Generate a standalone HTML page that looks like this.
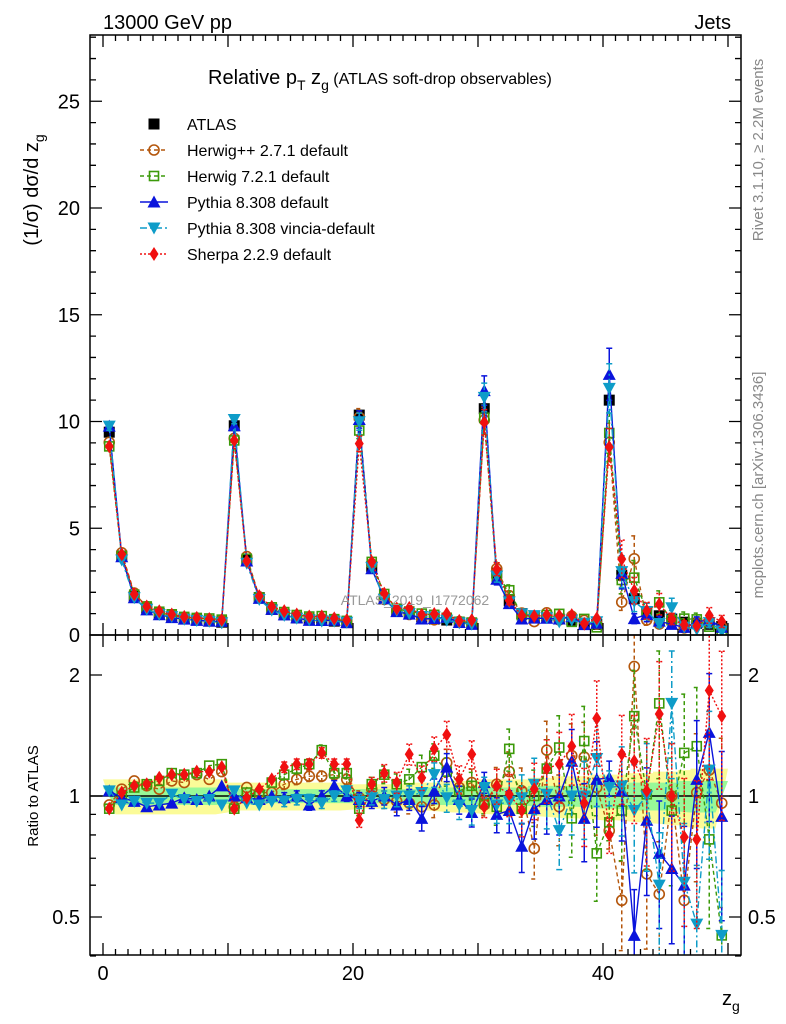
<!DOCTYPE html>
<html><head><meta charset="utf-8"><style>
html,body{margin:0;padding:0;background:#fff;}
svg{display:block;font-family:"Liberation Sans",sans-serif;}
</style></head><body>
<svg id="chart" width="786" height="1024" viewBox="0 0 786 1024" xmlns="http://www.w3.org/2000/svg">
<defs>
<clipPath id="clipMain"><rect x="90" y="35" width="651" height="600"/></clipPath>
<clipPath id="clipRatio"><rect x="90" y="635" width="651" height="320"/></clipPath>
</defs>
<g id="bands" clip-path="url(#clipRatio)"></g>
<g id="series-main" clip-path="url(#clipMain)"></g>
<g id="series-ratio" clip-path="url(#clipRatio)"></g>
<g id="axes"></g>
<text x="103" y="29" font-size="20">13000 GeV pp</text>
<text x="731" y="29" font-size="20" text-anchor="end">Jets</text>
<text x="208" y="84" font-size="20">Relative p<tspan font-size="14" dy="6">T</tspan><tspan dy="-6"> z</tspan><tspan font-size="14" dy="6">g</tspan><tspan dy="-6" font-size="16"> (ATLAS soft-drop observables)</tspan></text>
<text x="415" y="605" font-size="14" fill="#999" text-anchor="middle">ATLAS_2019_I1772062</text>
<text transform="translate(38,190) rotate(-90)" font-size="20" text-anchor="middle">(1/σ) dσ/d z<tspan font-size="14" dy="6">g</tspan></text>
<text transform="translate(38,796) rotate(-90)" font-size="15" text-anchor="middle">Ratio to ATLAS</text>
<text x="722" y="1005" font-size="20">z<tspan font-size="14" dy="6">g</tspan></text>
<text transform="translate(763,150) rotate(-90)" font-size="15" fill="#888" text-anchor="middle">Rivet 3.1.10, ≥ 2.2M events</text>
<text transform="translate(763,485) rotate(-90)" font-size="15" fill="#888" text-anchor="middle">mcplots.cern.ch [arXiv:1306.3436]</text>
<g id="legend"></g>
</svg>
<script>
const atlasVals=[9.5,3.7,1.8,1.25,1.0,0.85,0.75,0.7,0.65,0.6,
9.8,3.5,1.75,1.2,0.95,0.8,0.72,0.68,0.65,0.58,
10.3,3.2,1.7,1.15,1.0,0.85,0.75,0.7,0.6,0.55,
10.6,2.9,1.6,1.0,0.85,0.8,0.75,0.7,0.55,0.5,
11.0,2.8,1.7,1.1,0.9,0.75,0.6,0.55,0.5,0.4];
const herwigppRatio=[0.95,1.04,1.09,1.06,1.04,1.09,1.08,1.13,1.10,1.15,
0.94,1.05,1.02,1.02,1.07,1.10,1.12,1.12,1.13,1.1,
0.99,1.04,0.98,0.97,0.96,0.94,0.95,1.21,1.05,1.08,
0.95,1.07,1.15,1.03,0.74,1.30,0.94,1.26,1.25,1.05,
0.82,0.55,2.1,0.64,0.57,1.0,0.55,1.02,1.16,0.96];
const herwig7Ratio=[0.93,1.0,1.05,1.07,1.09,1.14,1.13,1.14,1.19,1.2,
0.93,1.02,1.0,1.08,1.13,1.17,1.2,1.3,1.14,1.14,
0.93,1.07,1.13,1.07,1.1,1.18,1.26,1.15,1.03,1.06,
0.96,0.94,1.31,0.93,1.0,1.17,1.32,0.88,1.37,0.72,
0.86,0.92,1.58,1.01,1.7,0.92,1.28,1.33,0.78,0.45];
const pythiaRatio=[1.03,0.99,0.97,0.94,0.95,0.96,0.99,0.98,1.0,1.06,
1.0,0.99,0.98,1.0,0.99,1.0,0.95,1.0,1.06,1.0,
0.98,0.97,1.0,0.95,0.98,0.88,1.03,1.18,0.98,0.91,
1.08,0.90,0.92,0.75,0.93,0.98,1.0,1.22,0.88,1.1,
1.11,1.03,0.45,0.87,0.72,0.66,0.6,1.1,1.44,0.89];
const vinciaRatio=[1.03,0.95,0.97,0.96,0.96,1.01,0.98,0.97,0.98,0.95,
1.03,0.96,0.95,0.97,0.97,0.98,0.98,0.96,1.0,1.03,
0.97,0.99,0.98,1.0,1.0,1.02,1.13,0.99,0.95,0.92,
1.05,0.95,0.97,0.99,1.07,1.01,0.82,1.0,1.0,1.24,
1.05,1.06,0.92,1.0,0.6,1.7,0.61,0.48,1.16,0.45];
const sherpaRatio=[0.93,1.02,1.06,1.07,1.11,1.13,1.13,1.15,1.15,1.18,
0.93,0.99,1.04,1.1,1.18,1.2,1.2,1.28,1.2,1.2,
0.87,1.07,1.14,1.08,1.27,1.11,1.31,1.42,1.1,1.27,
0.94,1.06,1.01,0.92,1.04,1.17,1.2,1.33,0.96,1.56,
0.8,1.27,1.22,1.03,1.6,1.0,0.79,0.78,1.83,1.58];
const mcErr=[0.02,0.02,0.02,0.02,0.02,0.02,0.02,0.02,0.02,0.02,
0.02,0.02,0.02,0.02,0.03,0.03,0.03,0.03,0.03,0.03,
0.04,0.04,0.05,0.06,0.06,0.07,0.07,0.08,0.08,0.08,
0.06,0.1,0.12,0.14,0.16,0.18,0.2,0.2,0.22,0.24,
0.1,0.25,0.3,0.35,0.35,0.35,0.4,0.4,0.4,0.45];
const bandTotal=[0.1,0.1,0.1,0.1,0.1,0.1,0.1,0.1,0.1,0.1,
0.08,0.08,0.08,0.08,0.08,0.08,0.08,0.08,0.08,0.08,
0.07,0.07,0.07,0.07,0.08,0.08,0.08,0.09,0.09,0.09,
0.1,0.1,0.1,0.1,0.11,0.11,0.12,0.12,0.12,0.13,
0.13,0.13,0.14,0.14,0.15,0.15,0.16,0.17,0.17,0.17];
const bandStat=[0.05,0.05,0.05,0.05,0.05,0.05,0.05,0.05,0.05,0.05,
0.04,0.04,0.04,0.04,0.04,0.04,0.04,0.04,0.04,0.04,
0.04,0.04,0.04,0.04,0.04,0.05,0.05,0.05,0.05,0.05,
0.05,0.05,0.05,0.05,0.06,0.06,0.06,0.06,0.06,0.07,
0.07,0.07,0.08,0.08,0.08,0.08,0.09,0.09,0.09,0.09];
const xTickLabels=["0","20","40"];
const yTickLabels=["0","5","10","15","20","25"];
const ratioTickLabels=["0.5","1","2"];

const NS="http://www.w3.org/2000/svg";
const X=v=>103+12.5*v;
const Y=v=>635-21.35*v;
const R=r=>796-121*Math.log2(r);
function mk(tag,attrs,parent){const e=document.createElementNS(NS,tag);for(const k in attrs)e.setAttribute(k,attrs[k]);parent.appendChild(e);return e;}

const gB=document.getElementById('bands');
function band(arr,color,name){
  let top=[],bot=[];
  arr.forEach((e,i)=>{top.push(X(i)+','+R(1+e),X(i+1)+','+R(1+e));bot.unshift(X(i)+','+R(1-e),X(i+1)+','+R(1-e));});
  const p=mk('polygon',{points:top.concat(bot).join(' '),fill:color},gB);
  
  
}
band(bandTotal,'#fbfb98','total-uncertainty-band');
band(bandStat,'#98f898','stat-uncertainty-band');

function marker(g,type,x,y,color,s){
  s=s||5.5;let e;
  if(type==='square'){e=mk('rect',{x:x-s,y:y-s,width:2*s,height:2*s,fill:color},g);}
  else if(type==='osquare'){e=mk('rect',{x:x-s+1,y:y-s+1,width:2*s-2,height:2*s-2,fill:'none',stroke:color,'stroke-width':1.6},g);}
  else if(type==='circle'){e=mk('circle',{cx:x,cy:y,r:s-0.5,fill:'none',stroke:color,'stroke-width':1.6},g);}
  else if(type==='tri'){e=mk('polygon',{points:`${x},${y-s-1} ${x-s-1},${y+s} ${x+s+1},${y+s}`,fill:color},g);}
  else if(type==='dtri'){e=mk('polygon',{points:`${x},${y+s+1} ${x-s-1},${y-s} ${x+s+1},${y-s}`,fill:color},g);}
  else if(type==='diamond'){e=mk('polygon',{points:`${x},${y-s-1.5} ${x-s+1},${y} ${x},${y+s+1.5} ${x+s-1},${y}`,fill:color},g);}
  return e;
}

const series=[
 {name:'herwigpp',ratio:herwigppRatio,color:'#b4560c',dash:'4,3',m:'circle',label:'Herwig++ 2.7.1 default'},
 {name:'herwig7',ratio:herwig7Ratio,color:'#3c9a0a',dash:'4,3',m:'osquare',label:'Herwig 7.2.1 default'},
 {name:'pythia',ratio:pythiaRatio,color:'#0a14dc',dash:'',m:'tri',label:'Pythia 8.308 default'},
 {name:'vincia',ratio:vinciaRatio,color:'#0e9cc8',dash:'7,3,2,3',m:'dtri',label:'Pythia 8.308 vincia-default'},
 {name:'sherpa',ratio:sherpaRatio,color:'#f01010',dash:'2,2',m:'diamond',label:'Sherpa 2.2.9 default'}
];
const gM=document.getElementById('series-main');
const gR=document.getElementById('series-ratio');

const ref=mk('line',{x1:90,x2:741,y1:R(1),y2:R(1),stroke:'#000','stroke-width':1.5},gR);



const ga=mk('g',{},gM);


atlasVals.forEach((v,i)=>{
  const m=marker(ga,'square',X(i+0.5),Y(v),'#000',5.5);
  
  
});

series.forEach(s=>{
  [['main',gM],['ratio',gR]].forEach(([panel,parent])=>{
    const g=mk('g',{},parent);
    
    
    const pts=s.ratio.map((r,i)=>{
      const x=X(i+0.5);
      const y=panel==='main'?Y(atlasVals[i]*r):R(r);
      return [x,y];
    });
    const ln=mk('polyline',{points:pts.map(p=>p.join(',')).join(' '),fill:'none',stroke:s.color,'stroke-width':1.4,'stroke-dasharray':s.dash},g);
    
    
    s.ratio.forEach((r,i)=>{
      const x=X(i+0.5);const e=mcErr[i];
      let y1,y2;
      if(panel==='main'){y1=Y(atlasVals[i]*r*(1+e));y2=Y(atlasVals[i]*r*(1-e));}
      else{y1=R(r*(1+e));y2=R(Math.max(r*(1-e),0.05));}
      if(Math.abs(y2-y1)>8){
        const eb=mk('path',{d:`M${x},${y1}V${y2}M${x-3},${y1}H${x+3}M${x-3},${y2}H${x+3}`,stroke:s.color,'stroke-width':1.5,fill:'none','stroke-dasharray':s.dash},g);
        
        
      }
    });
    pts.forEach(p=>{
      const m=marker(g,s.m,p[0],p[1],s.color);
      
      
    });
  });
});

const gA=document.getElementById('axes');
const fr1=mk('rect',{x:90,y:35,width:651,height:600,fill:'none',stroke:'#000','stroke-width':1.5},gA);


const fr2=mk('rect',{x:90,y:635,width:651,height:320,fill:'none',stroke:'#000','stroke-width':1.5},gA);


let d='';
for(let v=0;v<=28;v++){const y=Y(v);const L=v%5===0?12:6;d+=`M90,${y}h${L}M741,${y}h${-L}`;}
for(let v=0;v<=50;v++){const x=X(v);const L=v%10===0?12:6;d+=`M${x},955v${-L}M${x},635v${-L}M${x},635v${L}M${x},35v${L}`;}
const rt=[0.4,0.5,0.6,0.7,0.8,0.9,1,2];
rt.forEach(r=>{const y=R(r);const L=(r===0.5||r===1||r===2)?12:6;d+=`M90,${y}h${L}M741,${y}h${-L}`;});
const tk=mk('path',{d:d,stroke:'#000','stroke-width':1.3,fill:'none'},gA);


yTickLabels.forEach((l,i)=>{
  const t=mk('text',{x:80,y:Y(+l)+7,'font-size':20,'text-anchor':'end'},gA);t.textContent=l;
  
  
});
ratioTickLabels.forEach(l=>{
  const t=mk('text',{x:80,y:R(+l)+7,'font-size':20,'text-anchor':'end'},gA);t.textContent=l;
  
  
  const t2=mk('text',{x:748,y:R(+l)+7,'font-size':20},gA);t2.textContent=l;
  
  
});
xTickLabels.forEach(l=>{
  const t=mk('text',{x:X(+l),y:980,'font-size':20,'text-anchor':'middle'},gA);t.textContent=l;
  
  
});

const gL=document.getElementById('legend');
const rows=[{name:'atlas',label:'ATLAS',m:'square',color:'#000',dash:null}].concat(series);
rows.forEach((s,i)=>{
  const y=124+26*i;
  const g=mk('g',{},gL);
  
  
  if(s.dash!==null){mk('line',{x1:140,x2:168,y1:y,y2:y,stroke:s.color,'stroke-width':1.4,'stroke-dasharray':s.dash},g);}
  marker(g,s.m,154,y,s.color);
  const t=mk('text',{x:187,y:y+6,'font-size':16},g);t.textContent=s.label;
});
</script>
</body></html>
